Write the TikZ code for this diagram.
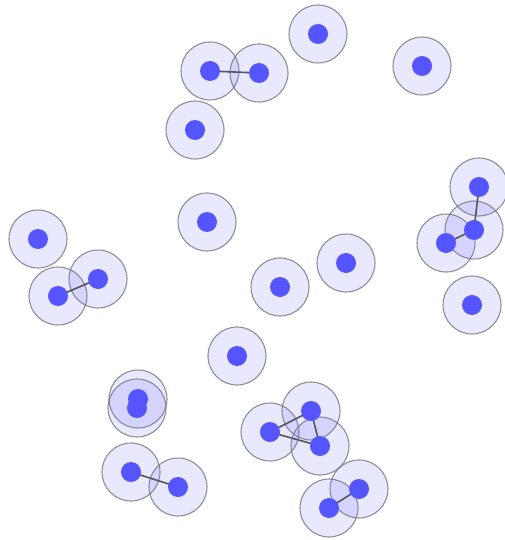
\documentclass[tikz,border=0pt]{standalone}
\begin{document}
\begin{tikzpicture}[x=1pt,y=-1pt,
  halo/.style={circle,minimum size=58pt,inner sep=0pt,draw={rgb,255:red,110;green,110;blue,110},draw opacity=0.75,line width=1.1pt,fill={rgb,255:red,90;green,90;blue,255},fill opacity=0.14},
  dot/.style={circle,minimum size=20pt,inner sep=0pt,fill={rgb,255:red,85;green,85;blue,255}},
  link/.style={draw={rgb,255:red,85;green,85;blue,85},line width=1.6pt}]
\useasboundingbox (0,0) rectangle (505,540);
\foreach \n/\x/\y in {a1/210/71,a2/259/73,b/318/34,c/422/66,d/195/130,e1/479/187,e2/474/230,e3/446/243,f/38/239,g/207/222,h1/98/279,h2/58/296,i/346/263,j/280/287,k/472/305,l/237/356,m1/138/399,m2/137/408,n1/270/432,n2/311/411,n3/320/446,o1/131/472,o2/178/487,p1/359/489,p2/329/508}
  \node[halo] (\n) at (\x,\y) {};
\draw[link] (a1.center) -- (a2.center);
\draw[link] (e1.center) -- (e2.center);
\draw[link] (e2.center) -- (e3.center);
\draw[link] (h1.center) -- (h2.center);
\draw[link] (n1.center) -- (n2.center);
\draw[link] (n1.center) -- (n3.center);
\draw[link] (n2.center) -- (n3.center);
\draw[link] (o1.center) -- (o2.center);
\draw[link] (p1.center) -- (p2.center);
\foreach \n in {a1,a2,b,c,d,e1,e2,e3,f,g,h1,h2,i,j,k,l,m1,m2,n1,n2,n3,o1,o2,p1,p2}
  \node[dot] (d\n) at (\n.center) {};
\end{tikzpicture}
\end{document}
